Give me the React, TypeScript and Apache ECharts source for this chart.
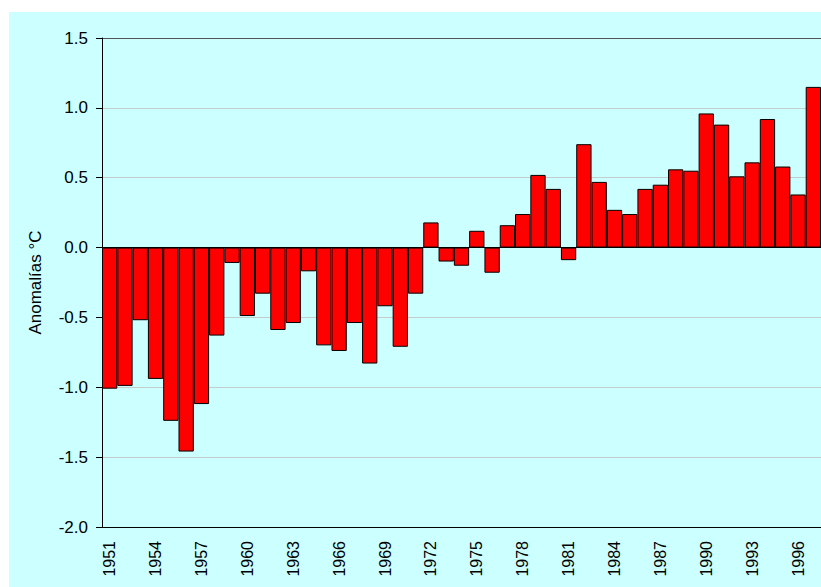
import React, { useEffect, useRef } from "react";
import * as echarts from "echarts";

const years: string[] = [
  "1951","1952","1953","1954","1955","1956","1957","1958","1959","1960",
  "1961","1962","1963","1964","1965","1966","1967","1968","1969","1970",
  "1971","1972","1973","1974","1975","1976","1977","1978","1979","1980",
  "1981","1982","1983","1984","1985","1986","1987","1988","1989","1990",
  "1991","1992","1993","1994","1995","1996","1997",
];

const anomalies: number[] = [
  -1.01, -0.99, -0.52, -0.94, -1.24, -1.46, -1.12, -0.63, -0.11, -0.49,
  -0.33, -0.59, -0.54, -0.17, -0.70, -0.74, -0.54, -0.83, -0.42, -0.71,
  -0.33, 0.18, -0.10, -0.13, 0.12, -0.18, 0.16, 0.24, 0.52, 0.42,
  -0.09, 0.74, 0.47, 0.27, 0.24, 0.42, 0.45, 0.56, 0.55, 0.96,
  0.88, 0.51, 0.61, 0.92, 0.58, 0.38, 1.15,
];

const yAxisTitle = "Anomalías °C";

export default function App() {
  const ref = useRef<HTMLDivElement>(null);
  useEffect(() => {
    if (!ref.current) return;
    const chart = echarts.init(ref.current, null, { renderer: "svg" });
    chart.setOption({
      animation: false,
      backgroundColor: "#CCFFFF",
      grid: { left: 93, right: 0, top: 26, bottom: 60, containLabel: false },
      xAxis: {
        type: "category",
        data: years,
        axisLine: { onZero: false, lineStyle: { color: "#000", width: 1 } },
        axisTick: { show: false },
        axisLabel: {
          interval: 2,
          rotate: 90,
          fontSize: 16,
          color: "#000",
          fontFamily: "Liberation Sans, Arial, sans-serif",
          margin: 14,
        },
        splitLine: { show: false },
      },
      yAxis: {
        type: "value",
        min: -2,
        max: 1.5,
        interval: 0.5,
        name: yAxisTitle,
        nameLocation: "middle",
        nameGap: 58,
        nameTextStyle: {
          fontSize: 17,
          color: "#000",
          fontFamily: "Liberation Sans, Arial, sans-serif",
        },
        axisLine: { show: true, lineStyle: { color: "#000", width: 1 } },
        axisTick: { show: true, inside: false, length: 6, lineStyle: { color: "#000" } },
        axisLabel: {
          fontSize: 17,
          color: "#000",
          fontFamily: "Liberation Sans, Arial, sans-serif",
          margin: 14,
          formatter: (v: number) => v.toFixed(1),
        },
        splitLine: {
          show: true,
          lineStyle: {
            color: ["#000000", "#c4cccc", "#c4cccc", "#c4cccc", "#000000", "#c4cccc", "#c4cccc", "#555555"],
            width: 1,
          },
        },
      },
      series: [
        {
          type: "bar",
          data: anomalies,
          barCategoryGap: "0%",
          itemStyle: { color: "#FF0000", borderColor: "#000", borderWidth: 1 },
        },
      ],
    });
    return () => chart.dispose();
  }, []);
  return (
    <div
      ref={ref}
      style={{ position: "absolute", left: 9, top: 12, width: 812, height: 575 }}
    />
  );
}
